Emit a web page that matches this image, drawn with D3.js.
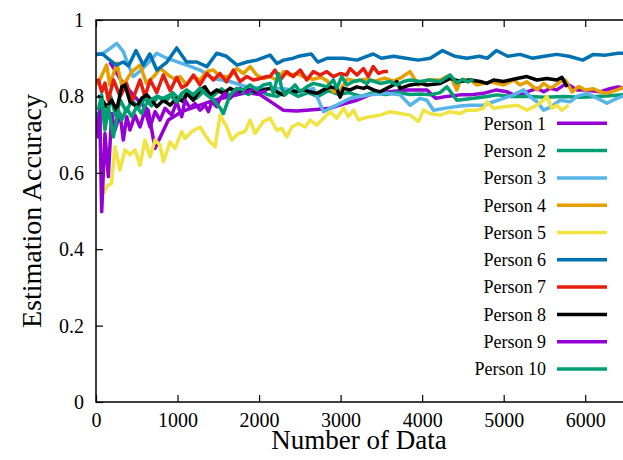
<!DOCTYPE html>
<html lang="en">
<head>
    <meta charset="UTF-8">
    <script src="https://d3js.org/d3.v7.min.js"></script>
    <title>Estimation Accuracy vs Number of Data</title>
    <style>
        body { margin: 0; background: #fff; }
        svg { font-family: "Liberation Serif", "Times New Roman", serif; }
    </style>
</head>
<body>
    <div id="chart"></div>
    <script>
        // [number of data, accuracy] pairs
        const person1 = [[170,0.89],[315,0.84],[470,0.80],[640,0.764],[724,0.664],[887,0.738],[1050,0.76],[1250,0.775],[1450,0.79],[1650,0.80],[1850,0.81],[2010,0.805],[2150,0.785],[2295,0.764],[2460,0.762],[2700,0.766],[2870,0.769],[3030,0.78],[3200,0.79],[3400,0.808],[3600,0.812],[3810,0.817],[4060,0.817],[4140,0.80],[4170,0.795],[4300,0.80],[4470,0.804],[4590,0.804],[4750,0.808],[4910,0.817],[5040,0.812],[5160,0.80],[5285,0.812],[5410,0.821],[5490,0.812],[5570,0.821],[5650,0.817],[5770,0.834],[5900,0.817],[6000,0.817],[6180,0.812],[6300,0.82],[6400,0.825],[6500,0.821]];
        const person2 = [[0,0.76],[40,0.70],[80,0.78],[130,0.74],[180,0.80],[240,0.75],[300,0.79],[370,0.76],[440,0.79],[520,0.77],[600,0.795],[680,0.775],[760,0.80],[850,0.785],[940,0.81],[1030,0.79],[1130,0.81],[1230,0.795],[1330,0.815],[1430,0.80],[1540,0.82],[1650,0.80],[1760,0.815],[1870,0.805],[1980,0.82],[2100,0.805],[2220,0.80],[2350,0.815],[2480,0.80],[2600,0.81],[2720,0.80],[2850,0.815],[2980,0.805],[3100,0.81],[3250,0.80],[3400,0.81],[3550,0.805],[3700,0.81],[3850,0.805],[4000,0.806],[4100,0.804],[4220,0.81],[4303,0.825],[4426,0.79],[4630,0.795],[4800,0.80],[4916,0.804],[5100,0.80],[5325,0.80],[5500,0.798],[5734,0.80],[5950,0.798],[6143,0.80],[6300,0.802],[6500,0.805]];
        const person3 = [[0,0.91],[90,0.913],[170,0.925],[254,0.939],[335,0.917],[400,0.88],[458,0.852],[560,0.87],[650,0.89],[745,0.913],[867,0.90],[990,0.891],[1113,0.882],[1276,0.869],[1440,0.847],[1644,0.839],[1849,0.825],[2053,0.821],[2300,0.82],[2540,0.812],[2667,0.821],[2790,0.76],[2953,0.777],[3117,0.795],[3240,0.80],[3362,0.804],[3566,0.808],[3730,0.804],[3853,0.777],[3975,0.795],[4057,0.79],[4139,0.764],[4303,0.77],[4467,0.775],[4589,0.777],[4753,0.777],[4876,0.786],[4998,0.795],[5121,0.804],[5244,0.817],[5326,0.799],[5408,0.786],[5490,0.764],[5572,0.772],[5693,0.79],[5816,0.786],[5898,0.80],[6020,0.808],[6103,0.80],[6266,0.782],[6389,0.795],[6500,0.804]];
        const person4 = [[0,0.83],[50,0.845],[130,0.882],[170,0.83],[255,0.887],[315,0.83],[375,0.843],[440,0.865],[540,0.882],[620,0.834],[725,0.856],[785,0.874],[910,0.852],[990,0.843],[1030,0.852],[1110,0.83],[1195,0.852],[1275,0.843],[1360,0.865],[1440,0.869],[1520,0.852],[1645,0.852],[1725,0.873],[1810,0.86],[1890,0.878],[1970,0.856],[2055,0.847],[2135,0.852],[2215,0.843],[2300,0.865],[2380,0.855],[2460,0.86],[2560,0.85],[2660,0.845],[2760,0.85],[2840,0.84],[2910,0.812],[2990,0.815],[3080,0.845],[3200,0.84],[3300,0.845],[3420,0.84],[3540,0.848],[3650,0.84],[3750,0.85],[3850,0.865],[3955,0.83],[4060,0.843],[4220,0.843],[4340,0.856],[4425,0.817],[4470,0.843],[4590,0.843],[4670,0.83],[4835,0.838],[5000,0.83],[5120,0.843],[5200,0.83],[5285,0.838],[5410,0.817],[5490,0.834],[5570,0.822],[5610,0.826],[5690,0.838],[5755,0.843],[5840,0.812],[5920,0.826],[6000,0.817],[6100,0.82],[6185,0.812],[6265,0.808],[6390,0.817],[6500,0.826]];
        const person5 = [[90,0.545],[110,0.555],[150,0.568],[190,0.572],[233,0.668],[294,0.607],[356,0.66],[417,0.647],[478,0.66],[540,0.62],[601,0.686],[663,0.642],[724,0.686],[785,0.673],[826,0.629],[908,0.681],[969,0.664],[1051,0.708],[1092,0.69],[1174,0.708],[1276,0.72],[1337,0.699],[1399,0.681],[1460,0.668],[1522,0.751],[1603,0.72],[1665,0.686],[1747,0.703],[1828,0.708],[1890,0.738],[1951,0.703],[2053,0.734],[2135,0.743],[2217,0.712],[2278,0.716],[2340,0.694],[2401,0.72],[2483,0.729],[2565,0.72],[2626,0.738],[2708,0.725],[2790,0.743],[2871,0.76],[2953,0.743],[3035,0.769],[3096,0.747],[3158,0.764],[3219,0.738],[3281,0.743],[3362,0.747],[3485,0.751],[3607,0.76],[3730,0.755],[3853,0.751],[3955,0.734],[4016,0.764],[4098,0.755],[4221,0.751],[4344,0.76],[4466,0.755],[4548,0.764],[4671,0.764],[4753,0.769],[4794,0.786],[4876,0.769],[4998,0.773],[5162,0.777],[5285,0.764],[5408,0.777],[5490,0.79],[5530,0.80],[5591,0.769],[5652,0.777],[5714,0.764],[5796,0.777]];
        const person6 = [[0,0.91],[80,0.911],[170,0.895],[250,0.882],[335,0.89],[400,0.88],[490,0.92],[580,0.882],[660,0.911],[745,0.869],[870,0.89],[990,0.927],[1110,0.89],[1235,0.89],[1360,0.878],[1480,0.913],[1600,0.905],[1730,0.882],[1850,0.89],[1970,0.895],[2135,0.908],[2220,0.886],[2300,0.895],[2420,0.90],[2500,0.906],[2640,0.911],[2720,0.89],[2840,0.90],[3040,0.90],[3200,0.895],[3320,0.905],[3400,0.911],[3500,0.90],[3650,0.905],[3800,0.90],[3950,0.895],[4100,0.90],[4250,0.92],[4400,0.905],[4550,0.90],[4700,0.905],[4800,0.90],[4910,0.92],[5050,0.905],[5200,0.91],[5350,0.90],[5500,0.905],[5650,0.91],[5800,0.905],[5970,0.895],[6100,0.91],[6250,0.908],[6400,0.913],[6500,0.913]];
        const person7 = [[0,0.84],[30,0.843],[70,0.812],[110,0.835],[150,0.79],[215,0.843],[295,0.80],[375,0.834],[440,0.786],[540,0.843],[600,0.80],[665,0.843],[745,0.81],[825,0.856],[910,0.815],[990,0.85],[1050,0.823],[1110,0.83],[1195,0.856],[1275,0.83],[1360,0.86],[1440,0.843],[1520,0.86],[1600,0.838],[1685,0.869],[1765,0.839],[1850,0.852],[1930,0.843],[2015,0.847],[2095,0.852],[2135,0.852],[2195,0.869],[2260,0.843],[2340,0.865],[2420,0.852],[2505,0.869],[2585,0.843],[2665,0.865],[2750,0.856],[2830,0.865],[2910,0.852],[2995,0.86],[3075,0.856],[3115,0.873],[3200,0.856],[3280,0.873],[3340,0.852],[3400,0.878],[3465,0.86],[3525,0.865],[3580,0.865]];
        const person8 = [[20,0.80],[49,0.799],[131,0.773],[192,0.79],[254,0.764],[315,0.825],[356,0.83],[417,0.786],[499,0.773],[560,0.795],[622,0.804],[683,0.79],[745,0.773],[826,0.79],[908,0.777],[990,0.795],[1072,0.786],[1112,0.808],[1194,0.79],[1276,0.817],[1337,0.825],[1399,0.804],[1481,0.817],[1562,0.808],[1644,0.821],[1726,0.812],[1808,0.817],[1889,0.817],[1971,0.812],[2053,0.817],[2135,0.821],[2217,0.812],[2299,0.804],[2380,0.817],[2462,0.812],[2544,0.817],[2626,0.812],[2708,0.808],[2790,0.817],[2871,0.825],[2953,0.821],[2994,0.798],[3035,0.821],[3117,0.817],[3199,0.825],[3281,0.821],[3321,0.825],[3403,0.817],[3485,0.812],[3566,0.821],[3648,0.83],[3689,0.839],[3730,0.821],[3853,0.83],[3975,0.834],[4057,0.83],[4221,0.834],[4344,0.847],[4466,0.839],[4589,0.843],[4712,0.839],[4794,0.834],[4876,0.843],[4998,0.839],[5080,0.843],[5162,0.847],[5285,0.852],[5408,0.843],[5530,0.847],[5652,0.843],[5714,0.85],[5780,0.825]];
        const person9 = [[0,0.72],[15,0.74],[28,0.694],[45,0.769],[70,0.498],[110,0.703],[151,0.59],[192,0.755],[233,0.712],[294,0.755],[335,0.686],[377,0.747],[417,0.712],[478,0.751],[540,0.72],[601,0.764],[663,0.72],[724,0.76],[785,0.738],[847,0.769],[928,0.751],[990,0.786],[1051,0.747],[1092,0.79],[1153,0.77],[1215,0.781],[1276,0.764],[1338,0.777],[1379,0.76],[1420,0.786],[1481,0.773],[1522,0.795],[1583,0.808],[1645,0.795],[1706,0.808],[1767,0.821],[1850,0.81],[1930,0.82],[2010,0.81],[2090,0.815]];
        const person10 = [[28,0.764],[70,0.804],[110,0.712],[151,0.773],[213,0.694],[274,0.764],[315,0.738],[376,0.769],[438,0.747],[499,0.773],[560,0.755],[601,0.777],[663,0.79],[745,0.80],[826,0.795],[908,0.804],[990,0.786],[1051,0.808],[1112,0.817],[1194,0.804],[1276,0.821],[1358,0.804],[1440,0.79],[1522,0.77],[1562,0.755],[1644,0.804],[1726,0.821],[1808,0.817],[1889,0.83],[1971,0.817],[2053,0.83],[2135,0.834],[2176,0.808],[2237,0.86],[2278,0.821],[2319,0.804],[2380,0.817],[2442,0.83],[2503,0.812],[2585,0.825],[2667,0.834],[2749,0.83],[2830,0.825],[2912,0.843],[2953,0.821],[3014,0.852],[3076,0.83],[3158,0.839],[3240,0.843],[3321,0.834],[3362,0.843],[3485,0.834],[3607,0.839],[3689,0.83],[3771,0.839],[3853,0.843],[3975,0.839],[4098,0.843],[4221,0.839],[4344,0.856],[4426,0.835],[4500,0.845],[4560,0.838],[4630,0.845]];

        const seriesNames = ["Person 1", "Person 2", "Person 3", "Person 4", "Person 5",
                             "Person 6", "Person 7", "Person 8", "Person 9", "Person 10"];
        const seriesData = [person1, person2, person3, person4, person5,
                            person6, person7, person8, person9, person10];
        const xTicks = [0, 1000, 2000, 3000, 4000, 5000, 6000];
        const yTicks = [0, 0.2, 0.4, 0.6, 0.8, 1];

        // gnuplot default line colours
        const colors = ["#9400d3", "#009e73", "#56b4e9", "#e69f00", "#f0e442",
                        "#0072b2", "#e51e10", "#000000", "#9400d3", "#009e73"];

        const W = 623, H = 460;
        const plot = { left: 96, right: 626, top: 20, bottom: 402 };

        const svg = d3.select("#chart").append("svg")
            .attr("width", W)
            .attr("height", H);

        const x = d3.scaleLinear().domain([0, 6500]).range([plot.left, plot.right]);
        const y = d3.scaleLinear().domain([0, 1]).range([plot.bottom, plot.top]);

        svg.append("clipPath").attr("id", "clip")
            .append("rect")
            .attr("x", plot.left).attr("y", plot.top)
            .attr("width", plot.right - plot.left)
            .attr("height", plot.bottom - plot.top);

        // lines
        const line = d3.line().x(d => x(d[0])).y(d => y(d[1]));
        const lines = svg.append("g").attr("clip-path", "url(#clip)");
        seriesData.forEach((s, i) => {
            lines.append("path")
                .datum(s)
                .attr("fill", "none")
                .attr("stroke", colors[i])
                .attr("stroke-width", 3.5)
                .attr("stroke-linejoin", "round")
                .attr("d", line);
        });

        // border
        svg.append("rect")
            .attr("x", plot.left).attr("y", plot.top)
            .attr("width", plot.right - plot.left)
            .attr("height", plot.bottom - plot.top)
            .attr("fill", "none")
            .attr("stroke", "#000")
            .attr("stroke-width", 1.5);

        // axes, ticks pointing inward
        const xAxis = svg.append("g")
            .attr("transform", `translate(0,${plot.bottom})`)
            .call(d3.axisBottom(x).tickValues(xTicks).tickSize(-7).tickSizeOuter(0).tickPadding(11)
                .tickFormat(d3.format("d")));
        const xTop = svg.append("g")
            .attr("transform", `translate(0,${plot.top})`)
            .call(d3.axisTop(x).tickValues(xTicks).tickSize(-7).tickSizeOuter(0).tickFormat(""));
        const yAxis = svg.append("g")
            .attr("transform", `translate(${plot.left},0)`)
            .call(d3.axisLeft(y).tickValues(yTicks).tickSize(-7).tickSizeOuter(0).tickPadding(12)
                .tickFormat(d3.format("~g")));

        [xAxis, xTop, yAxis].forEach(g => {
            g.attr("font-family", null).attr("font-size", null);
            g.select(".domain").remove();
            g.selectAll(".tick line").attr("stroke", "#000").attr("stroke-width", 1.2);
            g.selectAll("text")
                .attr("fill", "#000")
                .style("font-family", "'Liberation Serif', serif")
                .style("font-size", "20px");
        });

        // axis titles
        svg.append("text")
            .attr("x", (plot.left + plot.right) / 2 - 2)
            .attr("y", 449)
            .attr("text-anchor", "middle")
            .style("font-size", "27px")
            .text("Number of Data");

        svg.append("text")
            .attr("transform", `translate(41,${(plot.top + plot.bottom) / 2}) rotate(-90)`)
            .attr("text-anchor", "middle")
            .style("font-size", "28px")
            .text("Estimation Accuracy");

        // legend
        const legend = svg.append("g");
        seriesNames.forEach((name, i) => {
            const cy = 123.3 + i * 27.3;
            legend.append("text")
                .attr("x", 546)
                .attr("y", cy + 6.3)
                .attr("text-anchor", "end")
                .style("font-size", "18px")
                .text(name);
            legend.append("line")
                .attr("x1", 557).attr("x2", 607)
                .attr("y1", cy).attr("y2", cy)
                .attr("stroke", colors[i])
                .attr("stroke-width", 3.5);
        });
    </script>
</body>
</html>
